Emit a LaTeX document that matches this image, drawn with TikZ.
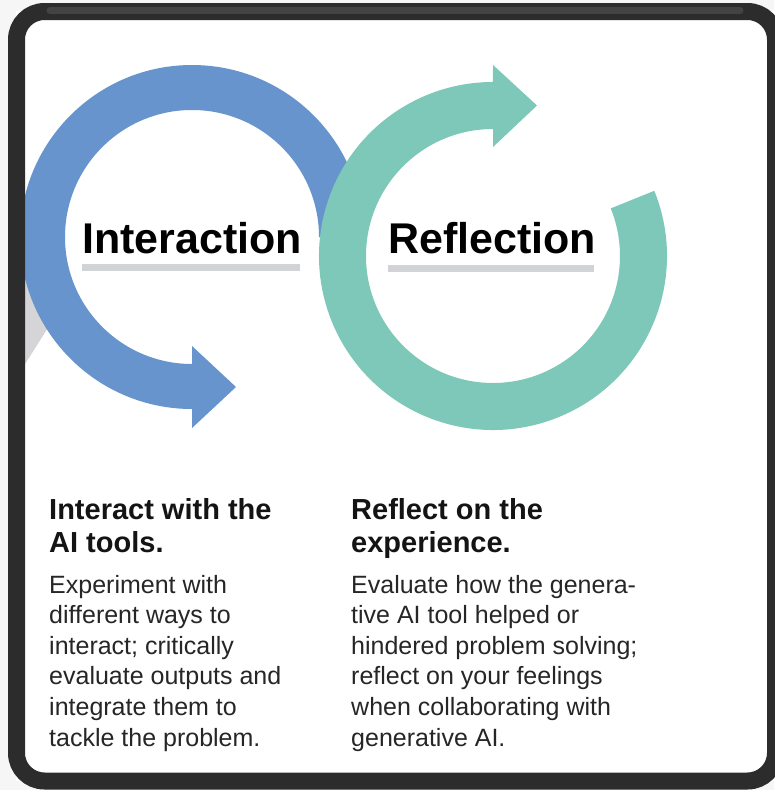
\documentclass[tikz,border=0pt]{standalone}
\usepackage{fontspec}
\setmainfont{Liberation Sans}
\definecolor{blueA}{HTML}{6794CD}
\definecolor{greenA}{HTML}{7DC8B8}
\definecolor{lineG}{HTML}{D2D3D6}
\definecolor{sliverG}{HTML}{D5D5D7}
\definecolor{frameC}{HTML}{2C2C2C}
\definecolor{frameHi}{HTML}{434343}
\definecolor{bgOut}{HTML}{F6F6F6}
\definecolor{headC}{HTML}{141414}
\definecolor{bodyC}{HTML}{262626}
\tikzset{
  bigtitle/.style={anchor=base west, inner sep=0pt, text=black, font=\fontsize{43}{50}\selectfont\bfseries},
  headline/.style={anchor=base west, inner sep=0pt, text=headC, font=\fontsize{29}{33}\selectfont\bfseries},
  bodyline/.style={anchor=base west, inner sep=0pt, text=bodyC, font=\fontsize{25}{30}\selectfont},
  underbar/.style={fill=lineG},
}
\begin{document}
\begin{tikzpicture}[x=1pt,y=-1pt]
\useasboundingbox (0,0) rectangle (774,790);
\fill[bgOut] (0,0) rectangle (774,790);
\fill[white] (16,11) rectangle (774,781);
% gray sliver of a hidden arrow
\fill[sliverG] (20,262) -- (58,312) -- (20,372) -- cycle;
% blue arrow (Interaction)
\fill[blueA] (364,237) arc[start angle=0,end angle=-270,radius=172]
  -- (192,428) -- (236,387) -- (192,346) -- (192,364)
  arc[start angle=-270,end angle=0,radius=127] -- cycle;
% green arrow (Reflection)
\fill[greenA] (654.3,190.8) arc[start angle=-22,end angle=270,radius=174]
  -- (493,65) -- (537,105.5) -- (493,147) -- (493,129)
  arc[start angle=270,end angle=-22,radius=127] -- cycle;
% titles
\node[bigtitle] (t1) at (82,253) {Interaction};
\fill[underbar] (82,264) rectangle (300,271);
\node[bigtitle] (t2) at (388,253) {Reflection};
\fill[underbar] (388,265) rectangle (594,271.5);
% headings
\node[headline] (h1a) at (49,519) {Interact with the};
\node[headline] (h1b) at (49,552) {AI tools.};
\node[headline] (h2a) at (351,519) {Reflect on the};
\node[headline] (h2b) at (351,552) {experience.};
% body left
\node[bodyline] (l1) at (49,593) {Experiment with};
\node[bodyline] (l2) at (49,623.6) {different ways to};
\node[bodyline] (l3) at (49,654.2) {interact; critically};
\node[bodyline] (l4) at (49,684.8) {evaluate outputs and};
\node[bodyline] (l5) at (49,715.4) {integrate them to};
\node[bodyline] (l6) at (49,746) {tackle the problem.};
% body right
\node[bodyline] (r1) at (351,593) {Evaluate how the genera-};
\node[bodyline] (r2) at (351,623.6) {tive AI tool helped or};
\node[bodyline] (r3) at (351,654.2) {hindered problem solving;};
\node[bodyline] (r4) at (351,684.8) {reflect on your feelings};
\node[bodyline] (r5) at (351,715.4) {when collaborating with};
\node[bodyline] (r6) at (351,746) {generative AI.};
% frame
\draw[frameC, line width=17pt, rounded corners=28pt] (16.5,11.5) rectangle (775.5,781);
\draw[frameHi, line width=7pt, line cap=round] (50,10.5) -- (740,10.5);
\end{tikzpicture}
\end{document}
